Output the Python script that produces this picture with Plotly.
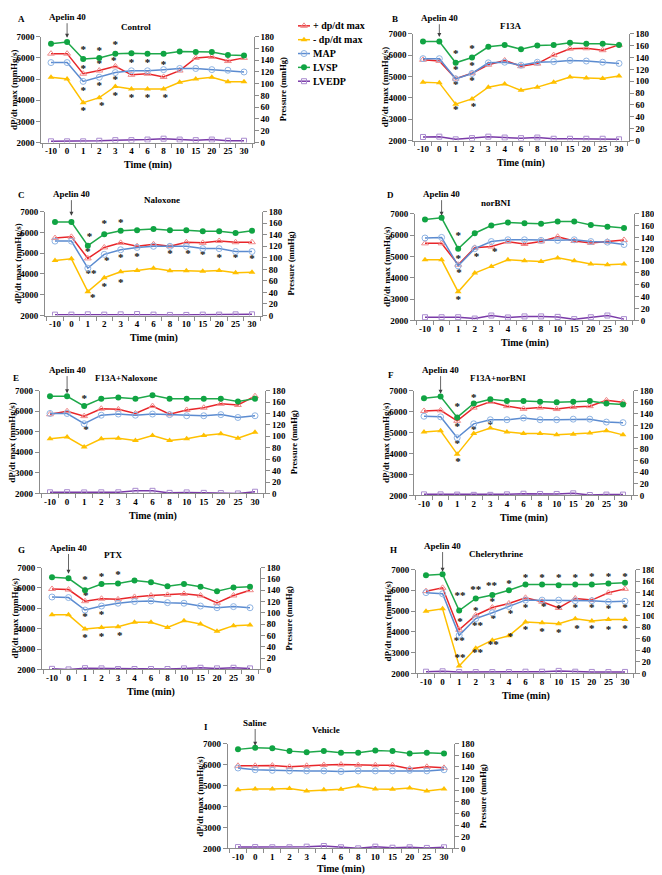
import plotly.graph_objects as go

times = ["-10", "0", "1", "2", "3", "4", "6", "8", "10", "15", "20", "25", "30"]
panels = ["A", "B", "C", "D", "E", "F", "G", "H", "I"]
titles = {"A": "Control", "B": "F13A", "C": "Naloxone", "D": "norBNI",
          "E": "F13A+Naloxone", "F": "F13A+norBNI", "G": "PTX",
          "H": "Chelerythrine", "I": "Vehicle"}
injection = {p: "Apelin 40" for p in panels}
injection["I"] = "Saline"

# + dP/dt max (mmHg/s), left axis
plus_dpdt = {
    "A": [6200, 6200, 5250, 5400, 5600, 5200, 5250, 5100, 5400, 6000, 6050, 5850, 6000],
    "B": [5780, 5730, 4900, 5150, 5550, 5750, 5480, 5600, 6000, 6300, 6320, 6230, 6480],
    "C": [5730, 5790, 4750, 5280, 5500, 5340, 5430, 5340, 5530, 5500, 5590, 5530, 5530],
    "D": [5610, 5610, 4610, 5400, 5460, 5690, 5580, 5700, 5920, 5720, 5630, 5690, 5770],
    "E": [5850, 6000, 5760, 6120, 6090, 5890, 6250, 5850, 6060, 6170, 6360, 6300, 6730],
    "F": [6030, 6060, 5560, 6190, 6470, 6260, 6130, 6190, 6120, 6220, 6260, 6540, 6450],
    "G": [5950, 5920, 5350, 5470, 5440, 5560, 5630, 5660, 5710, 5630, 5270, 5630, 5890],
    "H": [5960, 6120, 4100, 4800, 5170, 5370, 5640, 5450, 5150, 5610, 5530, 5880, 6070],
    "I": [5940, 5940, 5950, 5890, 5940, 5980, 6000, 5970, 5970, 5970, 5800, 5890, 5840],
}
# - dP/dt max (absolute, mmHg/s), left axis
minus_dpdt = {
    "A": [5080, 5000, 3880, 4120, 4650, 4530, 4530, 4530, 4850, 5000, 5080, 4870, 4870],
    "B": [4730, 4700, 3700, 3950, 4500, 4650, 4350, 4500, 4730, 4970, 4930, 4900, 5020],
    "C": [4650, 4730, 3150, 3820, 4110, 4170, 4270, 4160, 4160, 4130, 4170, 4060, 4080],
    "D": [4840, 4840, 3340, 4220, 4530, 4840, 4790, 4760, 4930, 4790, 4640, 4610, 4640],
    "E": [4660, 4740, 4260, 4660, 4690, 4580, 4820, 4580, 4660, 4820, 4900, 4690, 4980],
    "F": [5030, 5080, 3970, 4950, 5220, 5030, 4950, 4950, 4890, 4920, 4980, 5080, 4890],
    "G": [4680, 4680, 3980, 4060, 4100, 4310, 4310, 4060, 4390, 4230, 3870, 4150, 4180],
    "H": [4990, 5110, 2360, 3210, 3600, 3810, 4470, 4440, 4390, 4630, 4520, 4590, 4590],
    "I": [4790, 4830, 4830, 4860, 4740, 4790, 4820, 4970, 4830, 4820, 4880, 4740, 4830],
}
# MAP (mmHg), right axis
map_p = {
    "A": [136, 136, 104, 111, 119, 122, 122, 124, 126, 126, 124, 123, 120],
    "B": [138, 138, 104, 113, 131, 132, 127, 132, 133, 135, 134, 132, 130],
    "C": [129, 129, 82, 106, 114, 118, 120, 120, 120, 116, 116, 111, 111],
    "D": [139, 140, 92, 121, 133, 136, 136, 135, 135, 136, 133, 132, 128],
    "E": [140, 140, 122, 137, 139, 137, 139, 138, 136, 136, 138, 133, 136],
    "F": [136, 135, 99, 123, 130, 130, 133, 130, 130, 131, 131, 126, 125],
    "G": [128, 127, 105, 112, 117, 120, 121, 118, 117, 112, 109, 111, 109],
    "H": [140, 138, 66, 95, 105, 116, 127, 127, 127, 126, 126, 124, 125],
    "I": [138, 135, 134, 133, 133, 133, 132, 133, 133, 133, 134, 133, 135],
}
# LVSP (mmHg), right axis
lvsp = {
    "A": [168, 171, 142, 144, 151, 152, 151, 151, 155, 154, 154, 149, 148],
    "B": [167, 167, 131, 140, 158, 161, 154, 160, 161, 165, 163, 163, 161],
    "C": [162, 162, 121, 141, 147, 148, 150, 148, 148, 146, 146, 143, 147],
    "D": [170, 173, 121, 147, 160, 165, 164, 163, 167, 167, 161, 158, 156],
    "E": [170, 170, 153, 166, 168, 166, 172, 166, 166, 166, 166, 161, 166],
    "F": [167, 170, 134, 158, 165, 162, 162, 161, 160, 161, 162, 158, 156],
    "G": [163, 161, 140, 151, 152, 157, 154, 147, 151, 146, 138, 145, 146],
    "H": [170, 172, 109, 130, 136, 144, 154, 154, 153, 154, 154, 156, 157],
    "I": [170, 173, 172, 167, 165, 167, 164, 164, 168, 167, 163, 164, 163],
}
# LVEDP (mmHg), right axis
lvedp = {
    "A": [2, 2, 2, 3, 4, 4, 5, 6.5, 5, 4, 5, 3, 3],
    "B": [6, 6.5, 2, 4, 6.5, 5, 4, 5, 3, 3, 3, 3, 2],
    "C": [1.5, 1.5, 2, 1.5, 2, 2.5, 1.5, 1, 1, 1.5, 1.5, 2, 2],
    "D": [5.4, 5.4, 5.4, 3.2, 8.3, 5, 6.8, 6.8, 6, 2.2, 5.4, 8.3, 2.2],
    "E": [2, 2.2, 1.8, 2, 2, 4.6, 4.6, 1, 1.8, 1, 0.6, 0, 3],
    "F": [1.8, 1.8, 1.4, 1, 1, 1.8, 2.9, 2.5, 2.5, 3.6, 0.7, 1.4, 1.4],
    "G": [1, 0, 2.2, 1.8, 0.7, 0.7, 0.7, 0.7, 1.8, 2.9, 1.8, 2.9, 1.8],
    "H": [2.9, 3.6, 2.2, 2.2, 2.2, 2.2, 2.9, 2.9, 4.3, 2.9, 2.5, 2.2, 2.5],
    "I": [2.2, 2.2, 1.8, 1.8, 2.9, 4, 1.8, 0, 2.9, 1.1, 1.8, 0.7, 1.8],
}
# significance marks: (time, level on dP/dt scale, label, small horizontal shift in category units)
signif = {
    "A": [("1", 6350, "*", 0), ("1", 5460, "*", 0), ("1", 4430, "*", 0), ("1", 3500, "*", 0),
          ("2", 6300, "*", 0), ("2", 5690, "*", 0), ("2", 4660, "*", 0), ("2", 3730, "*", 0.15),
          ("3", 6580, "*", 0), ("3", 5830, "*", -0.1), ("3", 4940, "*", 0), ("3", 4200, "*", 0),
          ("4", 5740, "*", 0), ("4", 4100, "*", 0), ("6", 5740, "*", 0), ("6", 4100, "*", 0),
          ("8", 5640, "*", 0), ("8", 4100, "*", 0.1)],
    "B": [("1", 6030, "*", 0), ("1", 5270, "*", 0), ("1", 4580, "*", 0), ("1", 3430, "*", 0),
          ("2", 6260, "*", 0), ("2", 5470, "*", 0), ("2", 4760, "*", 0), ("2", 3550, "*", 0.1)],
    "C": [("1", 5760, "*", 0.1), ("1", 5060, "*", 0), ("1", 4000, "**", 0.2), ("1", 2830, "*", 0.3),
          ("2", 6400, "*", 0), ("3", 6430, "*", 0), ("2", 4610, "*", 0.15), ("2", 3350, "*", 0),
          ("3", 4740, "*", 0), ("3", 3550, "*", 0), ("4", 4820, "*", 0), ("8", 4930, "*", 0),
          ("10", 4960, "*", 0.1), ("15", 4900, "*", 0), ("20", 4780, "*", 0), ("25", 4740, "*", 0),
          ("30", 4690, "*", 0)],
    "D": [("1", 5920, "*", 0), ("1", 4880, "*", 0), ("1", 4220, "*", 0.05), ("1", 2940, "*", 0),
          ("2", 4940, "*", 0.1), ("3", 5190, "*", 0.2)],
    "E": [("1", 6570, "*", 0), ("1", 5050, "*", 0.1)],
    "F": [("1", 6230, "*", 0), ("1", 5250, "*", 0), ("1", 4450, "*", 0), ("1", 3590, "*", 0.05),
          ("2", 6640, "*", 0), ("2", 5110, "*", 0), ("3", 7020, "*", 0), ("3", 5360, "*", 0)],
    "G": [("1", 6400, "*", 0), ("1", 5600, "*", 0.05), ("1", 4550, "*", 0), ("1", 3550, "*", 0),
          ("2", 6530, "*", 0), ("2", 4660, "*", 0), ("2", 3580, "*", 0), ("3", 6610, "*", 0),
          ("3", 3610, "*", 0.1)],
    "H": [("1", 5730, "**", 0.05), ("1", 4470, "*", 0.05), ("1", 3570, "**", 0), ("1", 2710, "**", 0.05),
          ("2", 6000, "**", 0), ("2", 5000, "*", 0), ("2", 4250, "**", 0.1), ("2", 2950, "**", 0.1),
          ("3", 6210, "**", -0.05), ("3", 5430, "*", 0), ("3", 4630, "*", 0.05), ("3", 3370, "**", 0.05),
          ("4", 6280, "*", 0), ("4", 4870, "*", 0.1), ("4", 3720, "*", 0.1),
          ("6", 6580, "*", 0), ("6", 5130, "*", 0), ("6", 4080, "*", 0),
          ("8", 6600, "*", 0), ("8", 5180, "*", 0.1), ("8", 3970, "*", 0),
          ("10", 6560, "*", 0), ("10", 5090, "*", 0), ("10", 3930, "*", 0),
          ("15", 6600, "*", 0), ("15", 5130, "*", 0), ("15", 4130, "*", 0.1),
          ("20", 6650, "*", 0), ("20", 5150, "*", 0), ("20", 4130, "*", 0),
          ("25", 6650, "*", 0), ("25", 5100, "*", 0), ("25", 4100, "*", 0),
          ("30", 6650, "*", 0), ("30", 5150, "*", 0), ("30", 4120, "*", 0)],
    "I": [],
}
# arrow tip level (dP/dt scale) for the injection arrow at t = 0
arrow_tip = {"A": 6950, "B": 6850, "C": 6800, "D": 6900, "E": 6870,
             "F": 6850, "G": 6700, "H": 6900, "I": 6900}

# ---------------- layout geometry (pixels) ----------------
W, H = 662, 875
# x pixel of first (-10) and last (30) category, y pixel of 7000 and 2000
geom = {
    "A": (43, 236, 24, 131), "B": (415, 611, 21, 129),
    "C": (47, 244, 201, 306), "D": (417, 616, 203, 311),
    "E": (42, 247, 382, 486), "F": (416, 615, 382, 488),
    "G": (44, 242, 561, 664), "H": (418, 617, 563, 668),
    "I": (230, 436, 739, 845),
}
label_pos = {  # (letter x, letter y, title x, title y, arrow text y)
    "A": (13, 6, 128, 14, 4), "B": (387, 6, 502, 13, 5),
    "C": (13, 184, 154, 189, 183), "D": (382, 184, 488, 192, 183),
    "E": (8, 369, 118, 369, 361), "F": (383, 366, 490, 369, 361),
    "G": (13, 543, 105, 548, 541), "H": (385, 543, 488, 547, 539),
    "I": (198, 722, 318, 725, 718),
}
PAD = 0.6
n = len(times)
FONT = "Liberation Serif"

series_style = [
    ("+ dp/dt max", "#e8262a", dict(symbol="triangle-up-open", color="#f08a8a", size=6, line=dict(width=1))),
    ("- dp/dt max", "#ffc000", dict(symbol="triangle-up", color="#ffc000", size=6)),
    ("MAP", "#5b8bd0", dict(symbol="circle-open", color="#8fb4e3", size=6, line=dict(width=1))),
    ("LVSP", "#1ea84a", dict(symbol="circle", color="#10a443", size=6)),
    ("LVEDP", "#7a3aa8", dict(symbol="square-open", color="#a98bcf", size=5, line=dict(width=1))),
]

fig = go.Figure()
layout = dict(width=W, height=H, margin=dict(l=0, r=0, t=0, b=0),
              paper_bgcolor="white", plot_bgcolor="white", showlegend=False)
annotations = []


def px_x(v):
    return v / W


def px_y(v):
    return 1 - v / H


xidx = list(range(n))

for i, p in enumerate(panels, start=1):
    xa = "x" if i == 1 else f"x{i}"
    yl = 2 * i - 1
    yr = 2 * i
    yla = "y" if yl == 1 else f"y{yl}"
    yra = f"y{yr}"
    p0, p1, yt, yb = geom[p]
    sp = (p1 - p0) / (n - 1)
    x0 = p0 - PAD * sp
    x1 = p1 + PAD * sp
    axis_common = dict(showline=True, linecolor="#8c8c8c", linewidth=1, showgrid=False,
                       zeroline=False, ticks="outside", ticklen=4, tickcolor="#8c8c8c",
                       tickfont=dict(family=FONT, size=9, color="black", weight="bold"))
    layout["xaxis" if i == 1 else f"xaxis{i}"] = dict(
        domain=[px_x(x0), px_x(x1)], anchor=yla, range=[-PAD, n - 1 + PAD],
        tickmode="array", tickvals=xidx, ticktext=times, showline=True,
        linecolor="#8c8c8c", linewidth=1, showgrid=False, zeroline=False, ticks="",
        tickfont=dict(family=FONT, size=9, color="black", weight="bold"),
        minor=dict(tickmode="array", tickvals=[k - 0.5 for k in range(n + 1)],
                   ticks="outside", ticklen=4, tickcolor="#8c8c8c"))
    layout["yaxis" if yl == 1 else f"yaxis{yl}"] = dict(
        domain=[px_y(yb), px_y(yt)], anchor=xa, range=[2000, 7000],
        tickvals=[2000, 3000, 4000, 5000, 6000, 7000], **axis_common)
    layout[f"yaxis{yr}"] = dict(
        domain=[px_y(yb), px_y(yt)], anchor=xa, overlaying=yla, side="right",
        range=[0, 180], tickvals=list(range(0, 181, 20)), **axis_common)

    vals = [plus_dpdt[p], minus_dpdt[p], map_p[p], lvsp[p], lvedp[p]]
    for (name, lc, mk), v, yax in zip(series_style, vals, [yla, yla, yra, yra, yra]):
        fig.add_trace(go.Scatter(
            x=xidx, y=v, mode="lines+markers", name=name, xaxis=xa, yaxis=yax,
            line=dict(color=lc, width=1.5), marker=mk))

    if signif[p]:
        fig.add_trace(go.Scatter(
            x=[times.index(t) + dx for t, _, _, dx in signif[p]],
            y=[lev for _, lev, _, _ in signif[p]],
            text=[lab for _, _, lab, _ in signif[p]],
            mode="text", textposition="middle center",
            textfont=dict(family=FONT, size=11, color="#111111", weight="bold"),
            xaxis=xa, yaxis=yla, hoverinfo="skip"))

    lx, ly, tx, ty, ay_txt = label_pos[p]
    fnt = dict(family=FONT, size=9, color="black", weight="bold")
    annotations.append(dict(x=px_x(lx), y=px_y(ly), xref="paper", yref="paper", text=p,
                            showarrow=False, font=fnt, xanchor="center", yanchor="middle"))
    annotations.append(dict(x=px_x(tx), y=px_y(ty), xref="paper", yref="paper", text=titles[p],
                            showarrow=False, font=fnt, xanchor="center", yanchor="middle"))
    # injection arrow
    tip_px = yt + (7000 - arrow_tip[p]) / 5000 * (yb - yt)
    annotations.append(dict(x=times.index("0"), y=arrow_tip[p], xref=xa, yref=yla,
                            text=injection[p], showarrow=True, ax=0, ay=ay_txt - tip_px,
                            arrowhead=2, arrowsize=1, arrowwidth=0.8, arrowcolor="#404040",
                            font=fnt))
    # axis titles
    annotations.append(dict(x=px_x(x0 - 28), y=px_y((yt + yb) / 2), xref="paper", yref="paper",
                            text="dP/dt max (mmHg/s)", textangle=-90, showarrow=False, font=fnt,
                            xanchor="center", yanchor="middle", borderpad=0))
    annotations.append(dict(x=px_x(min(x1 + 29, 650)), y=px_y((yt + yb) / 2), xref="paper",
                            yref="paper", text="Pressure (mmHg)", textangle=-90,
                            showarrow=False, font=dict(family=FONT, size=8.5, color="black",
                                                       weight="bold"),
                            xanchor="center", yanchor="middle", borderpad=0))
    annotations.append(dict(x=px_x((x0 + x1) / 2), y=px_y(min(yb + 23, 866)), xref="paper",
                            yref="paper", text="Time (min)", showarrow=False,
                            font=dict(family=FONT, size=10, color="black", weight="bold"),
                            xanchor="center", yanchor="middle", borderpad=0))

# ---------- legend (drawn on a hidden helper axis, pixel units) ----------
leg_x0, leg_x1, leg_y0, leg_y1 = 288, 360, 4, 80
layout["xaxis10"] = dict(domain=[px_x(leg_x0), px_x(leg_x1)], range=[0, leg_x1 - leg_x0],
                         visible=False, anchor="y19", fixedrange=True)
layout["yaxis19"] = dict(domain=[px_y(leg_y1), px_y(leg_y0)], range=[leg_y1 - leg_y0, 0],
                         visible=False, anchor="x10", fixedrange=True)
for k, (name, lc, mk) in enumerate(series_style):
    yy = 9 + 14 * k
    fig.add_trace(go.Scatter(x=[2, 8, 14], y=[yy, yy, yy], mode="lines", xaxis="x10", yaxis="y19",
                             line=dict(color=lc, width=1.5), hoverinfo="skip"))
    fig.add_trace(go.Scatter(x=[8], y=[yy], mode="markers", xaxis="x10", yaxis="y19",
                             marker=mk, hoverinfo="skip"))
    annotations.append(dict(x=15, y=yy, xref="x10", yref="y19", text=name, showarrow=False,
                            xanchor="left", yanchor="middle",
                            font=dict(family=FONT, size=10, color="black", weight="bold")))

layout["annotations"] = annotations
fig.update_layout(**layout)
fig.write_html("out.html")
